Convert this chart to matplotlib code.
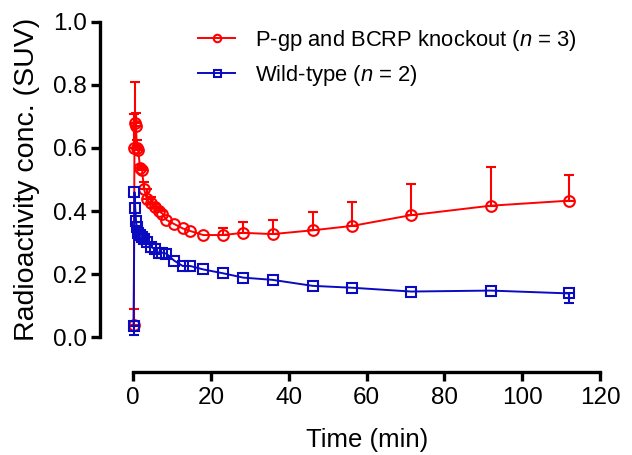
import numpy as np
import matplotlib
matplotlib.use("Agg")
import matplotlib.pyplot as plt

plt.rcParams['font.family'] = ['Liberation Sans', 'DejaVu Sans']
plt.rcParams['mathtext.fontset'] = 'custom'
plt.rcParams['mathtext.rm'] = 'Liberation Sans'
plt.rcParams['mathtext.it'] = 'Liberation Sans:italic'

# Data
time_min = [0.1, 0.3, 0.5, 0.7, 0.9, 1.25, 1.75, 2.25, 2.75, 3.5, 4.5, 5.5, 6.5,
            7.5, 8.5, 10.5, 12.7, 14.6, 18.0, 23.0, 28.3, 35.8, 46.1, 56.3, 71.4,
            91.9, 112.1]
ko_mean = [0.04, 0.60, 0.68, 0.67, 0.60, 0.595, 0.535, 0.53, 0.47, 0.437, 0.425,
           0.412, 0.40, 0.392, 0.372, 0.359, 0.345, 0.337, 0.324, 0.324, 0.331,
           0.327, 0.339, 0.353, 0.387, 0.417, 0.433]
ko_err_up = [0.05, 0.108, 0.13, 0.042, 0.025, 0.011, 0.01, 0.01, 0.023, 0.033,
             0.02, 0.01, 0.005, 0.0, 0.0, 0.0, 0.0, 0.0, 0.0, 0.021, 0.033,
             0.044, 0.057, 0.077, 0.099, 0.124, 0.082]
wt_mean = [0.035, 0.46, 0.41, 0.37, 0.35, 0.33, 0.325, 0.317, 0.31, 0.303, 0.287,
           0.28, 0.268, 0.268, 0.265, 0.243, 0.226, 0.226, 0.215, 0.203, 0.189,
           0.182, 0.163, 0.157, 0.145, 0.148, 0.139]
wt_err_down = [0.028, 0.0, 0.0, 0.0, 0.0, 0.0, 0.0, 0.0, 0.0, 0.0, 0.0, 0.0, 0.0,
               0.0, 0.0, 0.0, 0.0, 0.0, 0.0, 0.0, 0.0, 0.0, 0.0, 0.0, 0.0, 0.0,
               0.029]

labels = ['P-gp and BCRP knockout ($n$ = 3)', 'Wild-type ($n$ = 2)']
x_ticks = [0, 20, 40, 60, 80, 100, 120]
y_ticks = [0.0, 0.2, 0.4, 0.6, 0.8, 1.0]

red = '#FF0000'
blue = '#0A0AC0'

fig = plt.figure(figsize=(6.32, 4.55), dpi=100)
ax = fig.add_axes([0.2109, 0.2587, 0.7385, 0.6936])

t = np.array(time_min)
ko = np.array(ko_mean); koe = np.array(ko_err_up)
wt = np.array(wt_mean); wte = np.array(wt_err_down)

m = koe > 0
ax.errorbar(t[m], ko[m], yerr=[np.zeros(m.sum()), koe[m]], fmt='none',
            ecolor=red, elinewidth=1.5, capsize=3.6, capthick=1.5, clip_on=False)
m2 = wte > 0
ax.errorbar(t[m2], wt[m2], yerr=[wte[m2], np.zeros(m2.sum())], fmt='none',
            ecolor=blue, elinewidth=1.5, capsize=3.6, capthick=1.5, clip_on=False)

ax.plot(t, ko, color=red, lw=1.4, marker='o', ms=7.7, mfc='none', mew=1.5,
        label=labels[0], clip_on=False)
ax.plot(t, wt, color=blue, lw=1.4, marker='s', ms=7.2, mfc='none', mew=1.5,
        label=labels[1], clip_on=False)

ax.set_xlim(0, 120)
ax.set_ylim(0, 1.0)
ax.set_xticks(x_ticks)
ax.set_yticks(y_ticks)
ax.set_yticklabels([f'{v:.1f}' for v in y_ticks])

for s in ['top', 'right']:
    ax.spines[s].set_visible(False)
ax.spines['left'].set_position(('outward', 24))
ax.spines['bottom'].set_position(('outward', 25))
for s in ['left', 'bottom']:
    ax.spines[s].set_linewidth(2.4)
ax.tick_params(axis='both', width=2.4, length=6.5, labelsize=17.5, pad=3,
               colors='black')
ax.tick_params(axis='x', pad=4)

ax.set_xlabel('Time (min)', fontsize=18.5, labelpad=14)
ax.set_ylabel('Radioactivity conc. (SUV)', fontsize=20.5, labelpad=9)

leg = ax.legend(loc='upper left', bbox_to_anchor=(198 / 632, 1 - 28 / 455),
                bbox_transform=fig.transFigure, frameon=False, fontsize=15.8,
                handlelength=1.7, handletextpad=0.9, labelspacing=0.45,
                borderpad=0, borderaxespad=0, markerscale=0.7)

fig.savefig('out.png', dpi=100)
